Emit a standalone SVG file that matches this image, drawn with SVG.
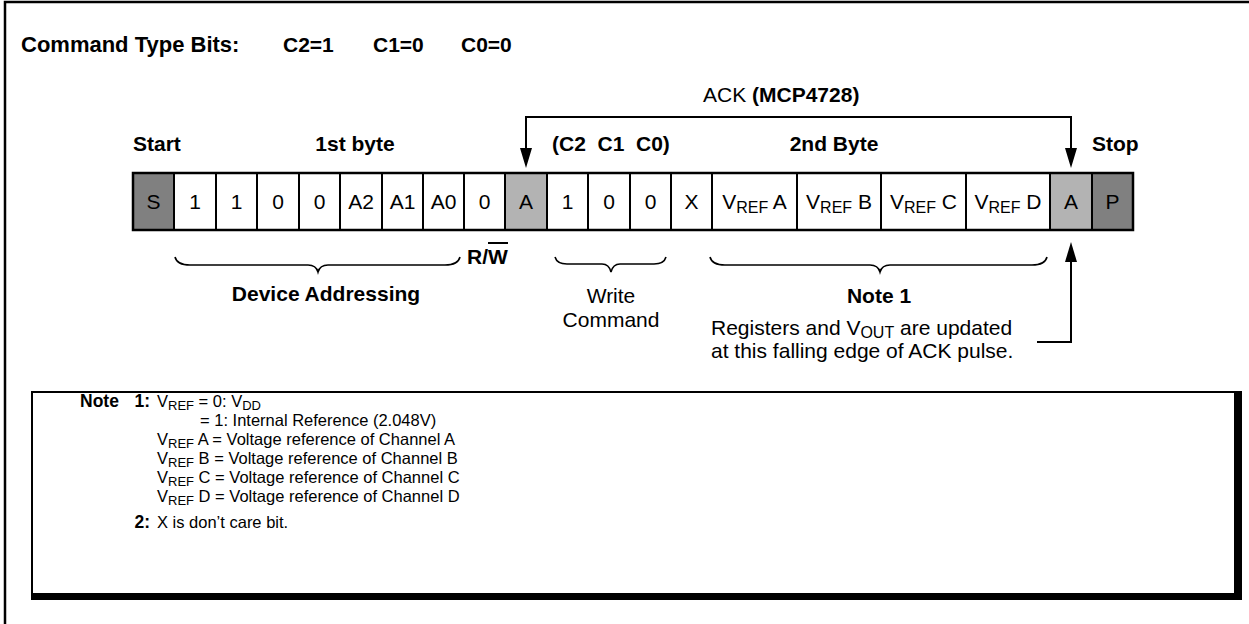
<svg xmlns="http://www.w3.org/2000/svg" width="1249" height="624" viewBox="0 0 1249 624">
<defs>
<style>
text{font-family:"Liberation Sans",Arial,sans-serif;fill:#000}
.b{font-weight:bold}
.lbl{font-size:21px;font-weight:bold}
.cell{font-size:21px;text-anchor:middle}
.ann{font-size:21px}
.note{font-size:16.5px}
.nl{font-size:17.5px;font-weight:bold}
.c{text-anchor:middle}
.div{stroke:#000;stroke-width:2;fill:none}
.ln{stroke:#000;stroke-width:2;fill:none}
.br{stroke:#000;stroke-width:1.6;fill:none}
.dk{fill:#808080}
.lt{fill:#b3b3b3}
</style>
</defs>
<rect width="1249" height="624" fill="#fff"/>
<path d="M5,624 V2 H1249" fill="none" stroke="#000" stroke-width="2.5"/>

<g id="title">
<text class="b" x="21" y="52" font-size="22">Command Type Bits:</text>
<text class="b" x="283" y="52" font-size="21">C2=1</text>
<text class="b" x="373" y="52" font-size="21">C1=0</text>
<text class="b" x="461" y="52" font-size="21">C0=0</text>
</g>

<g id="labels">
<text class="lbl" x="133" y="151">Start</text>
<text class="lbl c" x="355" y="151">1st byte</text>
<text class="lbl" x="552" y="151" xml:space="preserve">(C2  C1  C0)</text>
<text class="lbl c" x="834" y="151">2nd Byte</text>
<text class="lbl" x="1092" y="151">Stop</text>
<text class="ann" x="703" y="102">ACK <tspan class="b">(MCP4728)</tspan></text>
</g>

<g id="frame">
<rect class="dk" x="133" y="173" width="41" height="57"/>
<rect class="lt" x="505" y="173" width="42" height="57"/>
<rect class="lt" x="1050" y="173" width="42" height="57"/>
<rect class="dk" x="1092" y="173" width="41" height="57"/>
<path class="div" d="M174,173V230M216,173V230M257,173V230M299,173V230M340,173V230M382,173V230M423,173V230M464,173V230M505,173V230M547,173V230M588,173V230M630,173V230M671,173V230M712,173V230M797,173V230M881,173V230M966,173V230M1050,173V230M1092,173V230"/>
<rect x="133" y="173" width="1000" height="57" fill="none" stroke="#000" stroke-width="2.5"/>
</g>

<g id="cells">
<text class="cell" x="153.5" y="209">S</text>
<text class="cell" x="195" y="209">1</text>
<text class="cell" x="236.5" y="209">1</text>
<text class="cell" x="278" y="209">0</text>
<text class="cell" x="319.5" y="209">0</text>
<text class="cell" x="361" y="209">A2</text>
<text class="cell" x="402.5" y="209">A1</text>
<text class="cell" x="443.5" y="209">A0</text>
<text class="cell" x="484.5" y="209">0</text>
<text class="cell" x="526" y="209">A</text>
<text class="cell" x="567.5" y="209">1</text>
<text class="cell" x="609" y="209">0</text>
<text class="cell" x="650.5" y="209">0</text>
<text class="cell" x="691.5" y="209">X</text>
<text class="cell" x="754.5" y="209">V<tspan font-size="16" dy="4">REF</tspan><tspan dy="-4"> A</tspan></text>
<text class="cell" x="839" y="209">V<tspan font-size="16" dy="4">REF</tspan><tspan dy="-4"> B</tspan></text>
<text class="cell" x="923.5" y="209">V<tspan font-size="16" dy="4">REF</tspan><tspan dy="-4"> C</tspan></text>
<text class="cell" x="1008" y="209">V<tspan font-size="16" dy="4">REF</tspan><tspan dy="-4"> D</tspan></text>
<text class="cell" x="1071" y="209">A</text>
<text class="cell" x="1112.5" y="209">P</text>
</g>

<g id="connectors">
<path class="ln" d="M526,150 V117 H1071 V150"/>
<path d="M520,148 L532,148 L526,168 Z M1065,148 L1077,148 L1071,168 Z" fill="#000"/>
<path class="ln" d="M1037,342 H1071 V260"/>
<path d="M1065,262 L1077,262 L1071,242 Z" fill="#000"/>
</g>

<g id="braces">
<path class="br" d="M175,257 Q177,265 190,265 H308 Q316,265 318,272 Q320,265 328,265 H445 Q458,265 460,257"/>
<path class="br" d="M555,257 Q557,264 567,264 H602 Q609,264 611,272 Q613,264 620,264 H654 Q664,264 666,257"/>
<path class="br" d="M710,257 Q712,265 725,265 H870 Q878,265 880,272 Q882,265 890,265 H1032 Q1045,265 1047,257"/>
</g>

<g id="annotations">
<text class="lbl" x="467" y="264">R/W</text>
<path d="M488,243 H508" stroke="#000" stroke-width="2"/>
<text class="lbl c" x="326" y="301">Device Addressing</text>
<text class="ann c" x="611" y="303">Write</text>
<text class="ann c" x="611" y="327">Command</text>
<text class="lbl c" x="879" y="303">Note 1</text>
<text class="ann" x="711" y="335">Registers and V<tspan font-size="16" dy="3">OUT</tspan><tspan dy="-3"> are updated</tspan></text>
<text class="ann" x="711" y="358">at this falling edge of ACK pulse.</text>
</g>

<g id="notes">
<path d="M32,600 V392 H1242" fill="none" stroke="#000" stroke-width="2"/>
<rect x="1234" y="392" width="8" height="208" fill="#000"/>
<rect x="31" y="593" width="1211" height="7" fill="#000"/>
<text class="nl" x="80" y="407">Note</text>
<text class="nl" x="150" y="407" text-anchor="end">1:</text>
<text class="note" x="157" y="407">V<tspan font-size="13" dy="3">REF</tspan><tspan dy="-3"> = 0: V</tspan><tspan font-size="13" dy="3">DD</tspan></text>
<text class="note" x="200" y="426">= 1: Internal Reference (2.048V)</text>
<text class="note" x="157" y="445">V<tspan font-size="13" dy="3">REF</tspan><tspan dy="-3"> A = Voltage reference of Channel A</tspan></text>
<text class="note" x="157" y="464">V<tspan font-size="13" dy="3">REF</tspan><tspan dy="-3"> B = Voltage reference of Channel B</tspan></text>
<text class="note" x="157" y="483">V<tspan font-size="13" dy="3">REF</tspan><tspan dy="-3"> C = Voltage reference of Channel C</tspan></text>
<text class="note" x="157" y="502">V<tspan font-size="13" dy="3">REF</tspan><tspan dy="-3"> D = Voltage reference of Channel D</tspan></text>
<text class="nl" x="150" y="528" text-anchor="end">2:</text>
<text class="note" x="157" y="528">X is don’t care bit.</text>
</g>
</svg>
